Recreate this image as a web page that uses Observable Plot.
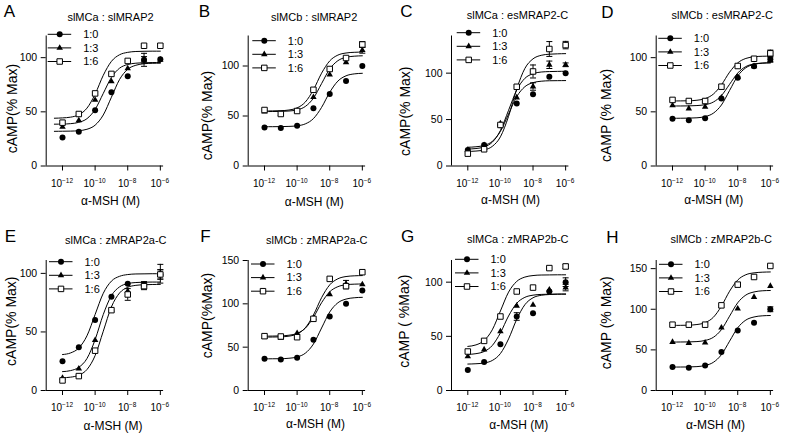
<!DOCTYPE html>
<html><head><meta charset="utf-8">
<script src="https://cdn.jsdelivr.net/npm/d3@7"></script>
<script src="https://cdn.jsdelivr.net/npm/@observablehq/plot@0.6"></script>
<style>
body{margin:0;background:#fff;}
#fig{position:relative;width:787px;height:434px;overflow:hidden;color:#000;background:#fff;font-family:"Liberation Sans",Arial,Helvetica,sans-serif;}
#fig svg{position:absolute;}
</style></head><body><div id="fig"></div>
<script>
// ---------- data ----------
const ratioLabels = ["1:0", "1:3", "1:6"];
const doseExponents = [-12, -11, -10, -9, -8, -7, -6];
const xTickExponents = [-12, -10, -8, -6];
const curveExpA = [-12.5, -12, -11.5, -11, -10.5, -10, -9.5, -9, -8.5, -8, -7.5, -7, -6.5, -6];
const curveExp = [-12, -11.5, -11, -10.5, -10, -9.5, -9, -8.5, -8, -7.5, -7, -6.5, -6];
const panelLetters = ["A", "B", "C", "D", "E", "F", "G", "H"];
const panelTitles = ["slMCa : slMRAP2", "slMCb : slMRAP2", "slMCa : esMRAP2-C", "slMCb : esMRAP2-C",
  "slMCa : zMRAP2a-C", "slMCb : zMRAP2a-C", "slMCa : zMRAP2b-C", "slMCb : zMRAP2b-C"];
const yLabels = ["cAMP(% Max)", "cAMP(% Max)", "cAMP(% Max)", "cAMP (% Max)",
  "cAMP(% Max)", "cAMP(%Max)", "cAMP ( %Max)", "cAMP (% Max)"];
const xLabel = "α-MSH (M)";
const yMaxes = [120, 130, 140, 120, 111, 150, 120, 160];
const yTicks100 = [0, 50, 100];
const yTicks150 = [0, 50, 100, 150];

// measured responses, rows = 1:0, 1:3, 1:6
const respA = [[26.2, 31.7, 51.4, 68, 82.8, 98, 98.5], [36, 42, 61, 78, 90, 98, 98], [40, 48, 67, 85, 97, 111, 111]];
const respB = [[38.6, 37.9, 40.3, 57.7, 72.1, 84.9, 100], [54.4, 52, 55, 68.8, 91.3, 103.7, 115.8], [56, 52, 55, 76.2, 97, 108, 121.5]];
const respC = [[17.3, 22.7, 43.9, 67.3, 77.3, 96, 100], [17.3, 22.3, 45.7, 73.7, 85.6, 109, 109], [13.3, 18, 44.2, 85.3, 101.8, 126, 130.2]];
const respD = [[43.7, 42.2, 44, 62.2, 81.5, 92, 98.5], [56, 53, 54.5, 63, 82.2, 92, 97], [61, 60, 60, 73.2, 92.3, 99, 104]];
const respE = [[24.9, 36.9, 60.3, 80, 91.1, 90, 99.1], [10.6, 18.6, 42.9, 69.1, 84.9, 90, 99.7], [8.6, 12.3, 34, 68.6, 82, 89.1, 99.1]];
const respF = [[36.5, 35.8, 37.7, 58.5, 85.4, 100, 115.4], [61.9, 60.8, 66.2, 83.5, 110.8, 123, 122.3], [62.7, 62.3, 61.5, 82.7, 128.8, 120.4, 136.5]];
const respG = [[19, 26.2, 42.8, 68.3, 71.4, 91.4, 100], [31.4, 37.8, 54.5, 78.2, 79, 93, 95], [36, 45.8, 68.3, 91.4, 95, 113, 114.5]];
const respH = [[28.8, 27.9, 30.8, 47.3, 74, 83.4, 100], [59.6, 58.4, 58.8, 77.3, 100.7, 115, 128.6], [81, 81, 81, 104.8, 130.3, 139.7, 153.3]];

// error bar half-lengths (0 = none visible)
const errA = [[0,0,0,0,0,3,0],[0,0,0,0,0,6,0],[0,0,0,0,0,0,0]];
const errB = [[0,0,0,0,0,0,0],[0,0,0,0,0,0,3],[0,0,0,0,0,0,3]];
const errC = [[0,0,0,0,0,0,0],[0,0,0,0,4,4,2],[0,0,0,0,7,8,4]];
const errD = [[0,0,0,0,0,0,2],[0,0,0,0,0,0,0],[0,0,0,0,0,0,3]];
const errE = [[0,0,0,0,0,3,4],[0,0,0,0,0,0,8],[0,0,0,0,5,3,4]];
const errF = [[0,0,0,0,0,0,0],[0,0,0,0,0,4,0],[0,0,0,0,0,3,0]];
const errG = [[0,0,0,3.5,0,0,4],[0,0,0,0,0,0,3],[0,0,0,0,0,0,2]];
const errH = [[0,0,0,0,0,0,3],[0,0,0,0,0,0,0],[0,0,0,0,0,0,0]];

// fitted curves (values at curveExp / curveExpA)
const fitA = [[32.0, 32.1, 32.2, 32.6, 33.9, 37.7, 47.1, 63.5, 79.9, 89.3, 93.0, 94.4, 94.8, 94.9],
  [38.6, 38.7, 39.1, 40.3, 43.7, 52.2, 67.0, 81.8, 90.3, 93.7, 94.9, 95.3, 95.5, 95.5],
  [44.1, 44.4, 45.1, 47.3, 53.4, 66.3, 83.7, 96.6, 102.7, 104.9, 105.7, 105.9, 106, 106]];
const fitB = [[39.3, 39.3, 39.4, 39.6, 40.2, 42.1, 47.4, 58.6, 73.7, 84.9, 90.2, 92.1, 92.7],
  [54.4, 54.5, 54.6, 55.0, 56.1, 59.5, 67.8, 82.4, 97.0, 105.3, 108.7, 109.8, 110.2],
  [55.0, 55.1, 55.3, 56.0, 58.1, 63.9, 76.2, 92.8, 105.1, 110.9, 113.0, 113.7, 113.9]];
const fitC = [[20.2, 20.7, 22.2, 26.5, 37.3, 56.0, 74.7, 85.4, 89.8, 91.3, 91.8, 91.9, 92.0],
  [18.3, 18.8, 20.6, 25.6, 38.2, 60.0, 81.8, 94.4, 99.4, 101.2, 101.7, 101.9, 102.0],
  [15.7, 16.1, 17.3, 21.1, 31.4, 53.5, 83.0, 105.1, 115.4, 119.2, 120.4, 120.8, 121.0]];
const fitD = [[44.0, 44.1, 44.2, 44.5, 45.6, 48.7, 56.3, 69.7, 83.1, 90.7, 93.8, 94.9, 95.2],
  [55.4, 55.4, 55.5, 55.8, 56.6, 59.0, 65.0, 75.4, 85.8, 91.8, 94.2, 95.0, 95.3],
  [60.0, 60.1, 60.2, 60.7, 62.2, 66.3, 74.9, 86.6, 95.2, 99.3, 100.8, 101.3, 101.4]];
const fitE = [[30.7, 32.1, 36.3, 46.7, 64.9, 83.0, 93.4, 97.5, 99.0, 99.5, 99.6, 99.7, 99.7],
  [16.1, 17.0, 19.8, 27.3, 43.4, 64.9, 81.0, 88.5, 91.3, 92.2, 92.5, 92.6, 92.6],
  [10.9, 11.4, 13.1, 17.9, 29.8, 50.6, 71.4, 83.3, 88.1, 89.8, 90.3, 90.5, 90.6]];
const fitF = [[36.5, 36.6, 36.7, 37.2, 38.7, 43.0, 53.6, 72.1, 90.6, 101.2, 105.5, 107.0, 107.5],
  [62.7, 62.8, 63.0, 63.8, 65.9, 71.8, 84.4, 101.3, 113.9, 119.8, 122.0, 122.7, 122.9],
  [61.6, 61.7, 61.9, 62.7, 65.3, 72.3, 87.1, 107.1, 121.9, 128.9, 131.5, 132.3, 132.6]];
const fitG = [[24.4, 24.7, 25.4, 27.7, 34.1, 47.6, 65.7, 79.2, 85.6, 87.9, 88.6, 88.9, 89.0],
  [33.3, 34.0, 36.0, 41.5, 53.2, 68.8, 80.5, 86.0, 88.0, 88.7, 88.9, 89.0, 89.0],
  [40.7, 42.1, 46.1, 56.0, 73.4, 90.8, 100.7, 104.7, 106.1, 106.6, 106.7, 106.8, 106.8]];
const fitH = [[28.8, 28.9, 29.0, 29.4, 30.8, 34.6, 44.1, 60.7, 77.2, 86.7, 90.5, 91.9, 92.3],
  [59.6, 59.7, 59.8, 60.2, 61.6, 65.4, 74.9, 91.5, 108.0, 117.5, 121.3, 122.7, 123.1],
  [80.1, 80.2, 80.4, 81.2, 83.5, 90.0, 103.8, 122.2, 136.0, 142.5, 144.8, 145.6, 145.9]];

// ---------- layout (pixels) ----------
const layout = [
  {left: 0,   top: 0,   w: 195, h: 215, ml: 45.7, mt: 35.5, mb: 49.5, letter: [9, 11],     title: [110, 16.7],   ylab: [11.7, 108],   xlab: [110, 201],     legX: 47.7,  legY: 34.3},
  {left: 195, top: 0,   w: 195, h: 215, ml: 52.7, mt: 35.5, mb: 49.5, letter: [204, 11],   title: [313.7, 16.7], ylab: [206.7, 115],  xlab: [313.7, 201.7], legX: 252.3, legY: 40.7},
  {left: 390, top: 0,   w: 195, h: 215, ml: 61,   mt: 35.5, mb: 49.5, letter: [406, 11.5], title: [517, 15],     ylab: [405, 110.7],  xlab: [510, 200],     legX: 456.7, legY: 32.7},
  {left: 585, top: 0,   w: 202, h: 215, ml: 70.7, mt: 35.5, mb: 49.5, letter: [607, 12.5], title: [721.7, 15],   ylab: [605.7, 115],  xlab: [713.3, 200],   legX: 658.3, legY: 38.3},
  {left: 0,   top: 215, w: 195, h: 219, ml: 45.7, mt: 45,   mb: 44,   letter: [10, 236],   title: [115.3, 240],  ylab: [10.7, 320.7], xlab: [112.5, 425.7], legX: 49,    legY: 261.7},
  {left: 195, top: 215, w: 195, h: 219, ml: 52.7, mt: 45,   mb: 44,   letter: [205, 236],  title: [316.3, 240],  ylab: [206.7, 315],  xlab: [315, 423.3],   legX: 251,   legY: 264},
  {left: 390, top: 215, w: 195, h: 219, ml: 61,   mt: 45,   mb: 44,   letter: [407, 236.5],title: [517.3, 239],  ylab: [404, 320.7],  xlab: [518.3, 425],   legX: 455,   legY: 259.3},
  {left: 585, top: 215, w: 202, h: 219, ml: 70.7, mt: 45,   mb: 44,   letter: [612, 237.3],title: [720.7, 239],  ylab: [605.7, 322.3],xlab: [715, 425],     legX: 659,   legY: 264.3}
];
const plotWidthPx = 117.4;              // from 1e-13 to 10^-5.8
const xDomain = [1e-13, Math.pow(10, -5.8)];
const markerStyles = [
  {symbol: "circle",   r: 3.0, fill: "black", stroke: "none"},
  {symbol: "triangle", r: 2.4, fill: "black", stroke: "none"},
  {symbol: "square",   r: 3.1, fill: "white", stroke: "black"}
];
const d3Symbols = {circle: d3.symbolCircle, triangle: d3.symbolTriangle, square: d3.symbolSquare};

const panels = [
  {resp: respA, err: errA, fit: fitA, fitExp: curveExpA, yTicks: yTicks100},
  {resp: respB, err: errB, fit: fitB, fitExp: curveExp, yTicks: yTicks100},
  {resp: respC, err: errC, fit: fitC, fitExp: curveExp, yTicks: yTicks100},
  {resp: respD, err: errD, fit: fitD, fitExp: curveExp, yTicks: yTicks100},
  {resp: respE, err: errE, fit: fitE, fitExp: curveExp, yTicks: yTicks100},
  {resp: respF, err: errF, fit: fitF, fitExp: curveExp, yTicks: yTicks150},
  {resp: respG, err: errG, fit: fitG, fitExp: curveExp, yTicks: yTicks100},
  {resp: respH, err: errH, fit: fitH, fitExp: curveExp, yTicks: yTicks150}
];

const capSymbol = {draw(ctx) { ctx.moveTo(-3, 0); ctx.lineTo(3, 0); }};

function absText(str, pos, L, opts) {
  return Plot.text([str], {text: d => d, frameAnchor: "top-left",
    dx: pos[0] - L.left - L.ml, dy: pos[1] - L.top - L.mt, fill: "black", ...opts});
}

// x tick labels "10" with a raised exponent, placed through the x scale
function xTickLabels() {
  return (index, scales, values, dims) => {
    const g = d3.create("svg:g").attr("text-anchor", "middle").attr("fill", "black");
    const y = dims.height - dims.marginBottom + 17.5;
    xTickExponents.forEach(e => {
      const t = g.append("text").attr("x", scales.x(Math.pow(10, e))).attr("y", y).attr("dy", "0.35em").attr("font-size", 10);
      t.append("tspan").text("10");
      t.append("tspan").attr("font-size", 6.5).attr("dy", -4).text("−" + String(-e));
    });
    return g.node();
  };
}

function legendMark(L) {
  return () => {
    const g = d3.create("svg:g");
    markerStyles.forEach((m, s) => {
      const y = L.legY - L.top + s * 13.6;
      const x0 = L.legX - L.left;
      g.append("line").attr("x1", x0).attr("x2", x0 + 23.5).attr("y1", y).attr("y2", y)
        .attr("stroke", "black").attr("stroke-width", 1);
      g.append("path").attr("transform", `translate(${x0 + 12},${y})`)
        .attr("d", d3.symbol(d3Symbols[m.symbol], Math.PI * m.r * m.r)())
        .attr("fill", m.fill).attr("stroke", m.stroke).attr("stroke-width", 1);
      g.append("text").attr("x", x0 + 35.5).attr("y", y).attr("dy", "0.35em").attr("text-anchor", "start")
        .attr("font-size", 11).attr("fill", "black").text(ratioLabels[s]);
    });
    return g.node();
  };
}

const fig = document.getElementById("fig");
panels.forEach((P, i) => {
  const L = layout[i];
  const yMax = yMaxes[i];
  const points = [], curves = [], errs = [];
  P.resp.forEach((row, s) => row.forEach((v, j) => {
    points.push({s, dose: Math.pow(10, doseExponents[j]), resp: v});
    const e = P.err[s][j];
    if (e > 0) errs.push({s, dose: Math.pow(10, doseExponents[j]), lo: v - e, hi: v + e});
  }));
  P.fit.forEach((row, s) => row.forEach((v, k) => curves.push({s, dose: Math.pow(10, P.fitExp[k]), resp: v})));

  const marks = [
    Plot.ruleX([xDomain[0]], {y1: 0, y2: yMax, stroke: "black", strokeWidth: 1}),
    Plot.ruleY([0], {x1: xDomain[0], x2: xDomain[1], stroke: "black", strokeWidth: 1}),
    Plot.axisX({ticks: xTickExponents.map(e => Math.pow(10, e)), tickFormat: () => "", tickSize: 5,
      label: null, stroke: "black"}),
    xTickLabels(),
    Plot.axisY({ticks: P.yTicks, tickSize: 5, tickPadding: 4, fontSize: 10.5, label: null, stroke: "black", fill: "black"}),
    Plot.line(curves, {x: "dose", y: "resp", z: "s", curve: "monotone-x", stroke: "black", strokeWidth: 1}),
    Plot.ruleX(errs, {x: "dose", y1: "lo", y2: "hi", stroke: "black", strokeWidth: 1}),
    Plot.dot(errs, {x: "dose", y: "lo", symbol: capSymbol, stroke: "black", strokeWidth: 1, r: 3}),
    Plot.dot(errs, {x: "dose", y: "hi", symbol: capSymbol, stroke: "black", strokeWidth: 1, r: 3})
  ];
  markerStyles.forEach((m, s) => {
    marks.push(Plot.dot(points.filter(d => d.s === s), {x: "dose", y: "resp", symbol: m.symbol, r: m.r,
      fill: m.fill, stroke: m.stroke, strokeWidth: 1}));
  });
  marks.push(absText(panelLetters[i], L.letter, L, {fontSize: 17, textAnchor: "middle", lineAnchor: "middle"}));
  marks.push(absText(panelTitles[i], L.title, L, {fontSize: 11, textAnchor: "middle", lineAnchor: "middle"}));
  marks.push(absText(yLabels[i], L.ylab, L, {fontSize: 14, textAnchor: "middle", lineAnchor: "middle", rotate: -90}));
  marks.push(absText(xLabel, L.xlab, L, {fontSize: 12, textAnchor: "middle", lineAnchor: "middle"}));
  marks.push(legendMark(L));

  const svg = Plot.plot({
    width: L.w, height: L.h,
    marginLeft: L.ml, marginTop: L.mt, marginBottom: L.mb,
    marginRight: L.w - L.ml - plotWidthPx,
    style: {fontFamily: '"Liberation Sans", Arial, sans-serif', background: "transparent", overflow: "visible", color: "black"},
    x: {type: "log", domain: xDomain},
    y: {domain: [0, yMax]},
    marks
  });
  svg.style.left = L.left + "px";
  svg.style.top = L.top + "px";
  fig.appendChild(svg);
});
</script></body></html>
